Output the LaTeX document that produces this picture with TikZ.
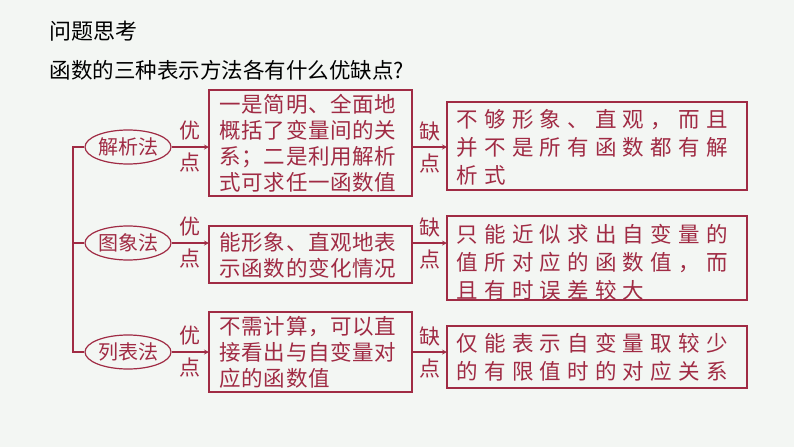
\documentclass[tikz,border=0pt]{standalone}
\usepackage{fontspec}
\setmainfont{Noto Sans CJK SC}
\usetikzlibrary{positioning,shapes.geometric,calc}
\definecolor{mred}{HTML}{A02B44}
\definecolor{bgc}{HTML}{F3F6F3}
\tikzset{
  method/.style = {ellipse, draw = mred, line width = 1.2pt, text = mred, minimum width = 86pt, minimum height = 34pt, inner sep = 0pt, font = \color{mred}\fontsize{20}{20}\selectfont},
  goodbox/.style = {draw = mred, line width = 1.2pt, text = mred, align = left, inner sep = 0pt, font = \color{mred}\fontsize{21.5}{26}\selectfont\addfontfeature{LetterSpace=3}},
  badbox/.style = {draw = mred, line width = 1.2pt, text = mred, align = left, inner sep = 0pt, font = \color{mred}\fontsize{21.5}{28}\selectfont\addfontfeature{LetterSpace=29}},
  tag/.style = {text = mred, align = center, font = \color{mred}\fontsize{21}{32}\selectfont},
}
\begin{document}
\begin{tikzpicture}[x = 1pt, y = -1pt, >= stealth]
    \fill[bgc] (0, 0) rectangle (794, 447);
    \useasboundingbox (0, 0) rectangle (794, 447);

    \node [anchor = west, font = \fontsize{22}{22}\selectfont] (title) at (46, 31) {问题思考};
    \node [anchor = west, font = \fontsize{21.5}{22}\selectfont] (question) at (46, 70) {函数的三种表示方法各有什么优缺点?};

    % rows
    \node [method] (m1) at (128, 147) {解析法};
    \node [method] (m2) at (128, 243) {图象法};
    \node [method] (m3) at (128, 352) {列表法};

    \draw [goodbox] (209, 90) rectangle (412, 196);
    \node [goodbox, draw = none, anchor = west] (g1) at (219, 143) {一是简明、全面地\\概括了变量间的关\\系；二是利用解析\\式可求任一函数值};
    \draw [goodbox] (209, 226) rectangle (412, 283);
    \node [goodbox, draw = none, anchor = west] (g2) at (219, 255) {能形象、直观地表\\示函数的变化情况};
    \draw [goodbox] (209, 312) rectangle (412, 392);
    \node [goodbox, draw = none, anchor = west] (g3) at (219, 352) {不需计算，可以直\\接看出与自变量对\\应的函数值};

    \draw [badbox] (447, 102) rectangle (747, 190);
    \node [badbox, draw = none, anchor = west] (b1) at (456, 147) {不够形象、直观，而且\\并不是所有函数都有解\\析式};
    \draw [badbox] (447, 216) rectangle (747, 300);
    \node [badbox, draw = none, anchor = west] (b2) at (456, 262) {只能近似求出自变量的\\值所对应的函数值，而\\且有时误差较大};
    \draw [badbox] (447, 326) rectangle (747, 388);
    \node [badbox, draw = none, anchor = west] (b3) at (456, 357) {仅能表示自变量取较少\\的有限值时的对应关系};

    \coordinate (g1w) at (209, 147); \coordinate (g2w) at (209, 243); \coordinate (g3w) at (209, 352);
    \coordinate (g1e) at (412, 147); \coordinate (g2e) at (412, 243); \coordinate (g3e) at (412, 352);
    \coordinate (b1w) at (447, 147); \coordinate (b2w) at (447, 243); \coordinate (b3w) at (447, 352);

    \foreach \i in {1,2,3} {
        \draw [mred, line width = 1.2pt, ->] (m\i) -- (g\i w);
        \draw [mred, line width = 1.2pt, ->] (g\i e) -- (b\i w);
        \node [tag] at ($(m\i.east)!.5!(g\i w)$) {优\\点};
        \node [tag] at ($(g\i e)!.5!(b\i w)$) {缺\\点};
    }

    \coordinate (trunk) at (73, 147);
    \coordinate (trunk3) at (73, 352);
    \draw [mred, line width = 1.2pt] (m1.west) -- (trunk) -- (trunk3) -- (m3.west);
    \draw [mred, line width = 1.2pt] (m2.west) -- (73, 243);
\end{tikzpicture}
\end{document}
